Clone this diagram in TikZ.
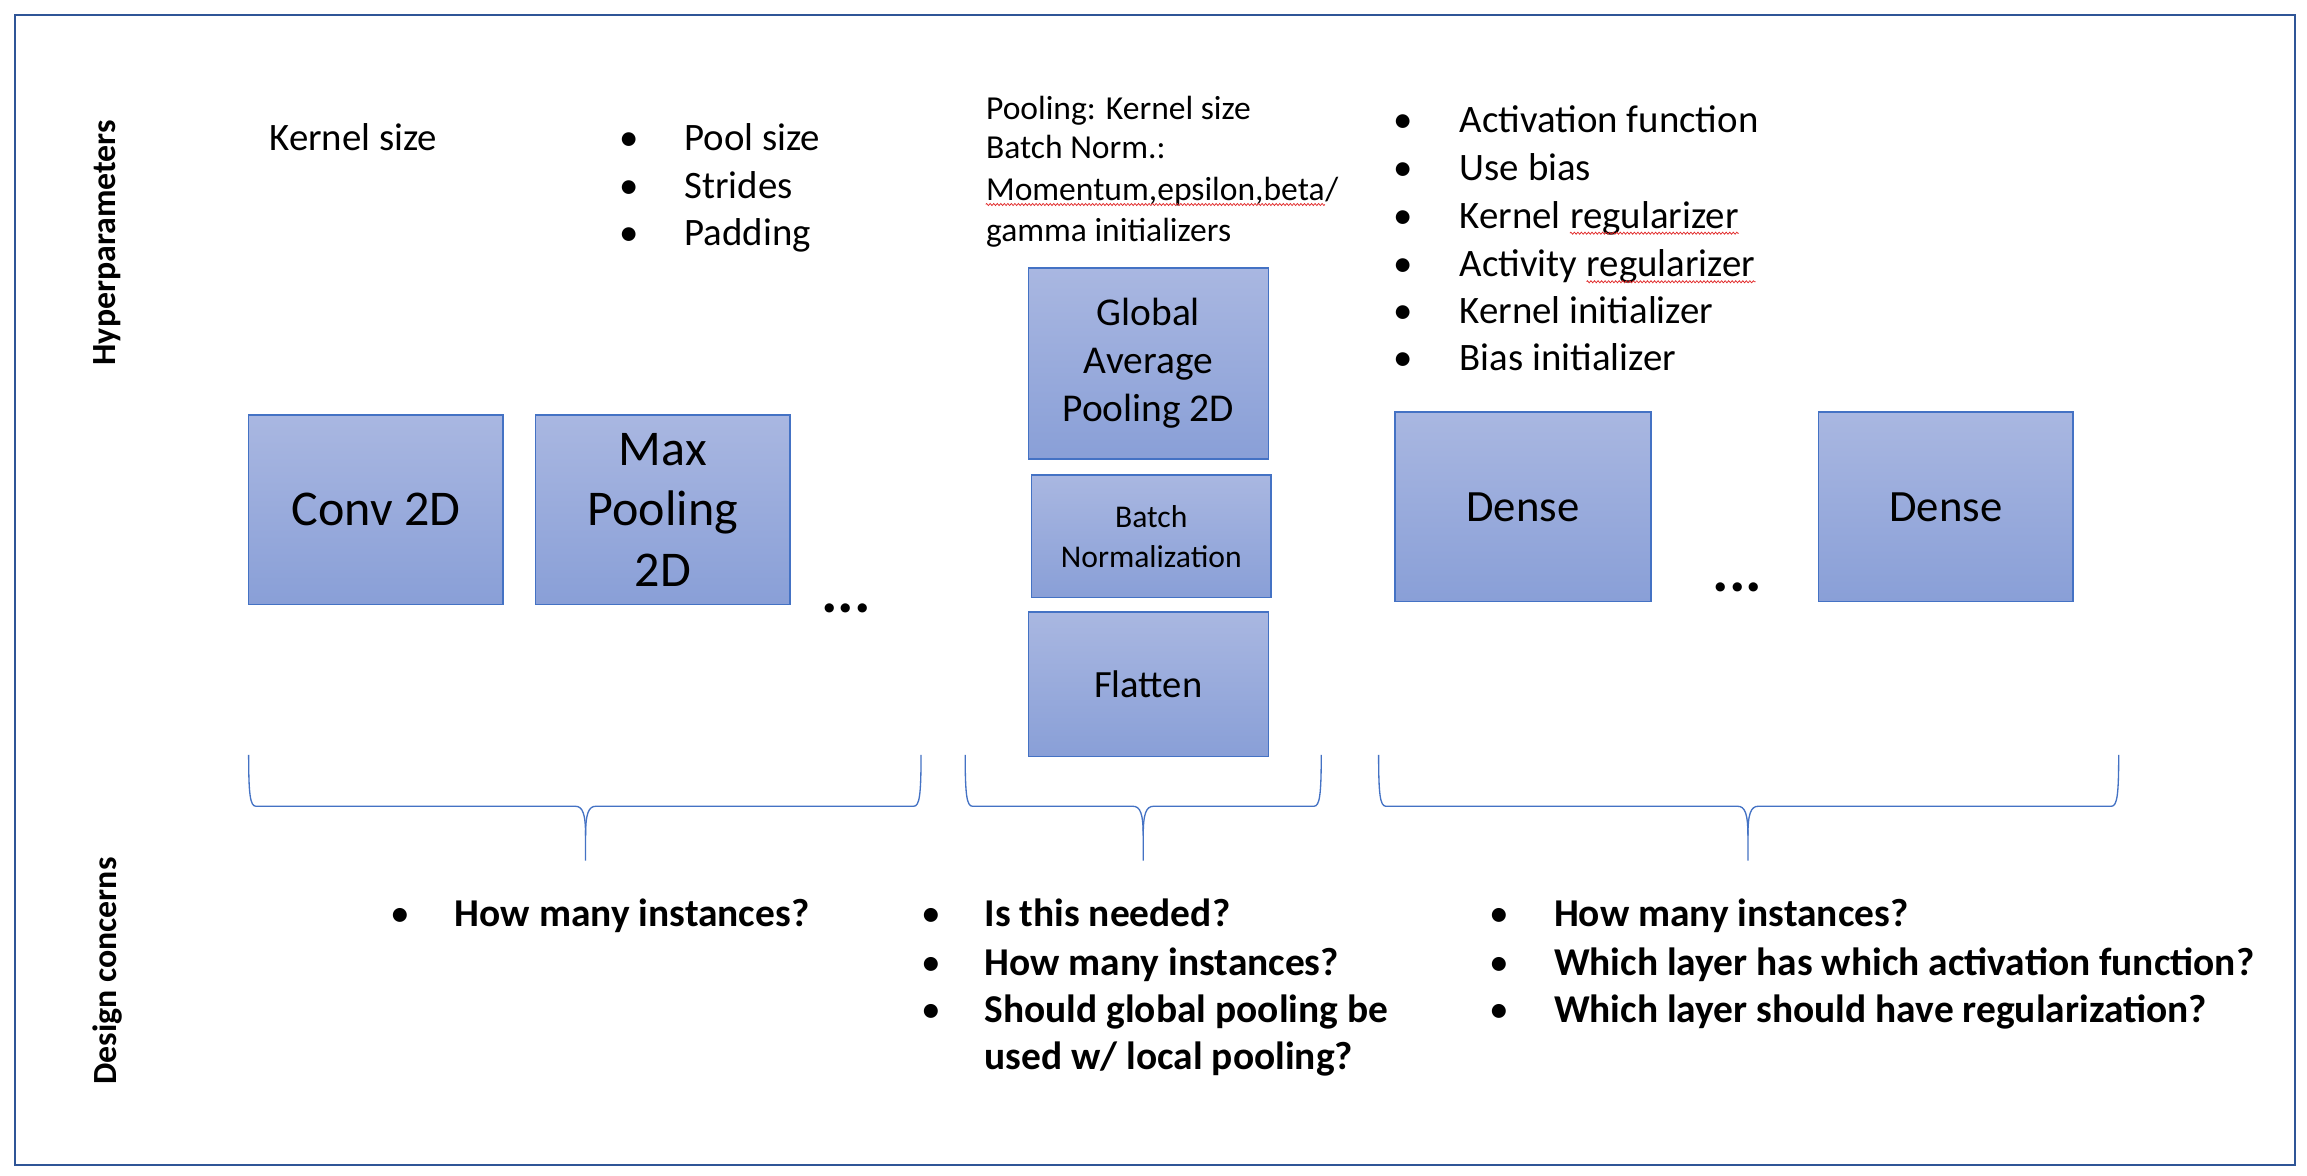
\documentclass[tikz,border=0pt]{standalone}
\usepackage{fontspec}
\setmainfont{Carlito}
\usetikzlibrary{decorations.pathmorphing}
\definecolor{boxtop}{RGB}{169,183,225}
\definecolor{boxbot}{RGB}{137,159,215}
\definecolor{boxline}{RGB}{68,114,196}
\definecolor{frameblue}{RGB}{47,85,151}
\definecolor{spellred}{RGB}{225,40,40}
\newcommand\fsz[2]{\fontsize{#1}{#2}\selectfont}
\newcommand\mybrace[3]{%
  \draw[braceline] (#1,513) .. controls (#1,540) and (#1+1,548) .. (#1+5,548) -- (#2-7,548) .. controls (#2-2,548) and (#2,553) .. (#2,568) -- (#2,585);
  \draw[braceline] (#3,513) .. controls (#3,540) and (#3-1,548) .. (#3-5,548) -- (#2+7,548) .. controls (#2+2,548) and (#2,553) .. (#2,568);}
\tikzset{
  layer/.style={draw=boxline, line width=1pt, top color=boxtop, bottom color=boxbot, align=center, inner sep=0pt, text=black},
  braceline/.style={draw=boxline, line width=0.9pt},
  hyp/.style={anchor=base west, inner sep=0pt, font=\fsz{26.4}{32}},
  hypsm/.style={anchor=base west, inner sep=0pt, font=\fsz{22.8}{27.7}},
  dsg/.style={anchor=base west, inner sep=0pt, font=\fsz{26.8}{32}\bfseries},
  dsgb/.style={anchor=base west, inner sep=0pt, font=\fsz{26.8}{32}},
  side/.style={rotate=90, inner sep=0pt, font=\fsz{23}{27}\bfseries},
  squig/.style={draw=spellred, line width=0.5pt, decorate, decoration={zigzag, amplitude=0.7pt, segment length=2.4pt}},
  dots/.style={anchor=base, inner sep=0pt, font=\fsz{42}{48}\bfseries}
}
\begin{document}
\begin{tikzpicture}[x=1pt,y=-1pt]
\useasboundingbox (0,0) rectangle (1568,799);
\fill[white] (0,0) rectangle (1568,799);
\draw[frameblue, line width=1.6pt] (10,10) rectangle (1560,792);

% side labels
\node[side] (lhyp) at (73,165) {Hyperparameters};
\node[side] (ldes) at (73,660) {Design concerns};

% hyperparameters: conv
\node[hyp] (hk) at (183,102) {Kernel size};
% pooling
\node[hyp] (pb1) at (421,102) {•};
\node[hyp] (pt1) at (465,102) {Pool size};
\node[hyp] (pb2) at (421,135) {•};
\node[hyp] (pt2) at (465,135) {Strides};
\node[hyp] (pb3) at (421,167) {•};
\node[hyp] (pt3) at (465,167) {Padding};
% middle
\node[hypsm] (m1) at (670,81) {Pooling: Kernel size};
\node[hypsm] (m2) at (670,108) {Batch Norm.:};
\node[hypsm] (m3) at (670,136) {Momentum,epsilon,beta};
\node[hypsm] (m3s) at (m3.base east) {/};
\node[hypsm] (m4) at (670,164) {gamma initializers};
\draw[squig] ([yshift=-3pt]m3.base west) -- ([yshift=-3pt]m3.base east);
% dense
\node[hyp] (db1) at (947,90) {•};
\node[hyp] (dt1) at (992,90) {Activation function};
\node[hyp] (db2) at (947,123) {•};
\node[hyp] (dt2) at (992,123) {Use bias};
\node[hyp] (db3) at (947,155) {•};
\node[hyp] (dt3) at (992,155) {Kernel};
\node[hyp] (dt3r) at ([xshift=6pt]dt3.base east) {regularizer};
\node[hyp] (db4) at (947,188) {•};
\node[hyp] (dt4) at (992,188) {Activity};
\node[hyp] (dt4r) at ([xshift=6pt]dt4.base east) {regularizer};
\node[hyp] (db5) at (947,220) {•};
\node[hyp] (dt5) at (992,220) {Kernel initializer};
\node[hyp] (db6) at (947,252) {•};
\node[hyp] (dt6) at (992,252) {Bias initializer};
\draw[squig] ([yshift=-3.5pt]dt3r.base west) -- ([yshift=-3.5pt]dt3r.base east);
\draw[squig] ([yshift=-3.5pt]dt4r.base west) -- ([yshift=-3.5pt]dt4r.base east);

% layer boxes
\node[layer, minimum width=173pt, minimum height=129pt, font=\fsz{34}{41}] (conv) at (255.5,346.5) {Conv 2D};
\node[layer, minimum width=173pt, minimum height=129pt, font=\fsz{34}{41}] (maxp) at (450.5,346.5) {Max\\Pooling\\2D};
\node[dots] (dots1) at (575,416) {...};
\node[layer, minimum width=163pt, minimum height=130pt, font=\fsz{26.8}{32.5}] (gap) at (780.5,247) {Global\\Average\\Pooling 2D};
\node[layer, minimum width=163pt, minimum height=83pt, font=\fsz{21.5}{27}] (bn) at (782.5,364.5) {Batch\\Normalization};
\node[layer, minimum width=163pt, minimum height=98pt, font=\fsz{26.2}{32}] (flat) at (780.5,465) {Flatten};
\node[layer, minimum width=174pt, minimum height=129pt, font=\fsz{30.4}{36}] (dense1) at (1035,344.5) {Dense};
\node[dots] (dots2) at (1181,402) {...};
\node[layer, minimum width=173pt, minimum height=129pt, font=\fsz{30.4}{36}] (dense2) at (1322.5,344.5) {Dense};

% braces
\mybrace{169}{398}{626}
\mybrace{656}{777}{898}
\mybrace{937}{1188}{1440}

% design concerns
\node[dsgb] (c1b) at (265,630) {•};
\node[dsg] (c1t) at (309,630) {How many instances?};
\node[dsgb] (c2b1) at (626,630) {•};
\node[dsg] (c2t1) at (669,630) {Is this needed?};
\node[dsgb] (c2b2) at (626,663) {•};
\node[dsg] (c2t2) at (669,663) {How many instances?};
\node[dsgb] (c2b3) at (626,695) {•};
\node[dsg] (c2t3) at (669,695) {Should global pooling be};
\node[dsg] (c2t4) at (669,727) {used w/ local pooling?};
\node[dsgb] (c3b1) at (1012,630) {•};
\node[dsg] (c3t1) at (1056,630) {How many instances?};
\node[dsgb] (c3b2) at (1012,663) {•};
\node[dsg] (c3t2) at (1056,663) {Which layer has which activation function?};
\node[dsgb] (c3b3) at (1012,695) {•};
\node[dsg] (c3t3) at (1056,695) {Which layer should have regularization?};
\end{tikzpicture}
\end{document}
